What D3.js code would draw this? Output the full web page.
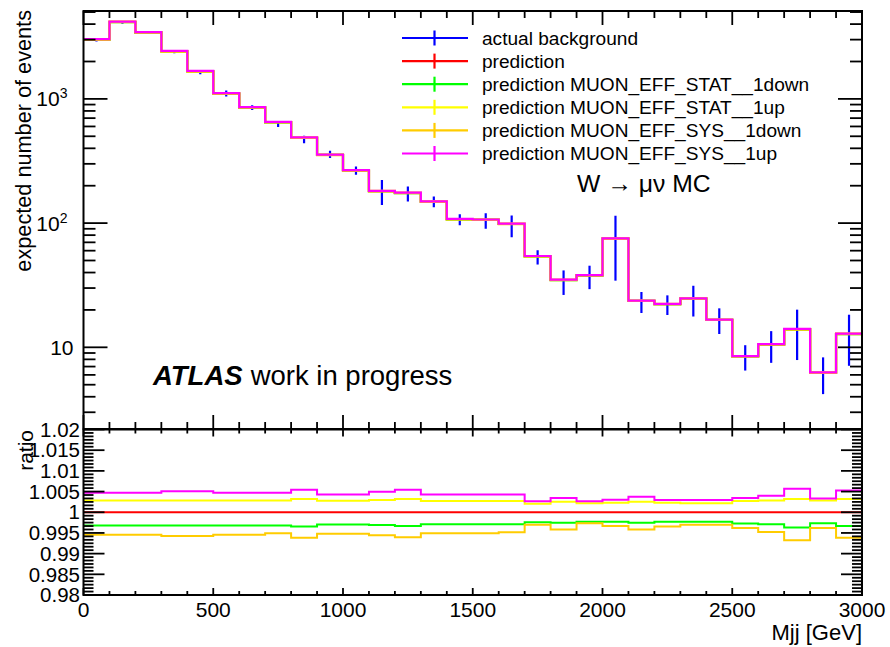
<!DOCTYPE html>
<html><head><meta charset="utf-8">
<script src="https://cdn.jsdelivr.net/npm/d3@7"></script>
<style>
body{margin:0;background:#fff}
svg text{font-family:"Liberation Sans",Arial,Helvetica,sans-serif;fill:#000}
</style>
</head><body>
<svg id="c" width="890" height="647"></svg>
<script>
// ---------------- data ----------------
const binEdges = [0,100,200,300,400,500,600,700,800,900,1000,1100,1200,1300,1400,1500,1600,1700,1800,1900,2000,2100,2200,2300,2400,2500,2600,2700,2800,2900,3000];
const prediction = [3010,4170,3430,2420,1670,1106,854,650,488,355,266,181,175,149,107.5,106.5,98.6,54.2,34.9,38.0,75.0,23.7,22.3,24.7,16.65,8.48,10.56,14.0,6.26,12.83];
const actualBkg = [2944,4083,3420,2376,1627,1105,852,618,472,358,265,181,173,149,107,105,96,53.4,34,37.4,74.4,23.4,22.2,24.5,16.7,8.45,10.5,14.0,6.25,12.7];
const actualErr = [50,65,60,50,45,61,37,25,32,24,20,41,24,15,11,15,19,7,7.6,8,40,4.5,4,6.8,3.9,1.95,3.0,6.1,2.05,5.6];
const ratioStatDown = [0.99681,0.99681,0.99681,0.99681,0.99681,0.99681,0.99681,0.99681,0.99653,0.99705,0.99705,0.99689,0.99665,0.99713,0.99713,0.99713,0.99713,0.99761,0.99745,0.99769,0.99769,0.99745,0.99769,0.99769,0.99769,0.99729,0.99713,0.99633,0.99737,0.99665];
const ratioStatUp = [1.00287,1.00287,1.00287,1.00287,1.00287,1.00287,1.00287,1.00287,1.00319,1.00279,1.00279,1.00295,1.00319,1.00271,1.00271,1.00271,1.00271,1.00207,1.00255,1.00219,1.00231,1.00255,1.00231,1.00215,1.00215,1.00271,1.00287,1.00319,1.00287,1.00319];
const ratioSysDown = [0.99458,0.99458,0.99458,0.99426,0.99426,0.99458,0.99458,0.99490,0.99386,0.99482,0.99482,0.99442,0.99394,0.99490,0.99490,0.99490,0.99514,0.99697,0.99585,0.99737,0.99665,0.99585,0.99657,0.99697,0.99697,0.99617,0.99522,0.99322,0.99617,0.99386];
const ratioSysUp = [1.00470,1.00470,1.00470,1.00510,1.00510,1.00470,1.00470,1.00470,1.00542,1.00431,1.00431,1.00494,1.00542,1.00431,1.00431,1.00431,1.00431,1.00263,1.00343,1.00263,1.00303,1.00375,1.00295,1.00295,1.00295,1.00343,1.00399,1.00566,1.00335,1.00526];
const ratioNominal = prediction.map(() => 1);

const legendNames = ["actual background","prediction","prediction MUON_EFF_STAT__1down","prediction MUON_EFF_STAT__1up","prediction MUON_EFF_SYS__1down","prediction MUON_EFF_SYS__1up"];
const legendColors = ["#0000ff","#ff0000","#00ff00","#ffff00","#ffcc00","#ff00ff"];

const xMajorTicks = [0,500,1000,1500,2000,2500,3000];
const xTickLabels = ["0","500","1000","1500","2000","2500","3000"];
const yMainMajor = [10,100,1000];
const yMainLabelBase = ["10","10","10"];
const yMainLabelExp = ["","2","3"];
const ratioTicks = [0.98,0.985,0.99,0.995,1,1.005,1.01,1.015,1.02];
const ratioTickLabels = ["0.98","0.985","0.99","0.995","1","1.005","1.01","1.015","1.02"];

// ---------------- layout ----------------
const X0 = 83.5, X1 = 862, T = 11, MB = 429, RT = 429.5, RB = 595;
const svg = d3.select("#c");
const x = d3.scaleLinear().domain([0,3000]).range([X0,X1]);
const y = d3.scaleLog().domain([2.2,5100]).range([MB,T]);
const yr = d3.scaleLinear().domain([0.98,1.02]).range([RB,RT]);

svg.append("rect").attr("width",890).attr("height",647).attr("fill","#fff");
const defs = svg.append("defs");
defs.append("clipPath").attr("id","clipMain").append("rect").attr("x",X0).attr("y",T).attr("width",X1-X0).attr("height",MB-T);
defs.append("clipPath").attr("id","clipRatio").append("rect").attr("x",X0).attr("y",RT).attr("width",X1-X0).attr("height",RB-RT);

function stepPts(vals){
  const pts = vals.map((v,i)=>[binEdges[i],v]);
  pts.push([binEdges[binEdges.length-1], vals[vals.length-1]]);
  return pts;
}
const lineMain = d3.line().x(d=>x(d[0])).y(d=>y(d[1])).curve(d3.curveStepAfter);
const lineRatio = d3.line().x(d=>x(d[0])).y(d=>yr(d[1])).curve(d3.curveStepAfter);

// ---------------- main panel ----------------
const gMain = svg.append("g").attr("clip-path","url(#clipMain)");
const centers = binEdges.slice(0,-1).map((e,i)=>(e+binEdges[i+1])/2);
gMain.selectAll("line.err").data(actualBkg).enter().append("line")
  .attr("x1",(d,i)=>x(centers[i])).attr("x2",(d,i)=>x(centers[i]))
  .attr("y1",(d,i)=>y(d+actualErr[i])).attr("y2",(d,i)=>y(Math.max(d-actualErr[i],0.01)))
  .attr("stroke","#0000ff").attr("stroke-width",2.2);

const mainSeries = [
  {vals: prediction, c: legendColors[1]},
  {vals: prediction.map((v,i)=>v*ratioStatDown[i]), c: legendColors[2]},
  {vals: prediction.map((v,i)=>v*ratioStatUp[i]), c: legendColors[3]},
  {vals: prediction.map((v,i)=>v*ratioSysDown[i]), c: legendColors[4]},
  {vals: prediction.map((v,i)=>v*ratioSysUp[i]), c: legendColors[5]}
];
mainSeries.forEach(s=>{
  gMain.append("path").attr("d",lineMain(stepPts(s.vals))).attr("fill","none")
    .attr("stroke",s.c).attr("stroke-width",2.2);
});

// ---------------- ratio panel ----------------
const gRatio = svg.append("g").attr("clip-path","url(#clipRatio)");
[[ratioNominal,1],[ratioStatDown,2],[ratioStatUp,3],[ratioSysDown,4],[ratioSysUp,5]].forEach(([vals,ci])=>{
  gRatio.append("path").attr("d",lineRatio(stepPts(vals))).attr("fill","none")
    .attr("stroke",legendColors[ci]).attr("stroke-width",2);
});

// ---------------- axes ----------------
const ax = svg.append("g").attr("stroke","#000").attr("stroke-width",1.8);
function tick(x1,y1,x2,y2){ ax.append("line").attr("x1",x1).attr("y1",y1).attr("x2",x2).attr("y2",y2); }

svg.append("rect").attr("x",X0).attr("y",T).attr("width",X1-X0).attr("height",MB-T).attr("fill","none").attr("stroke","#000").attr("stroke-width",2);
svg.append("rect").attr("x",X0).attr("y",RT).attr("width",X1-X0).attr("height",RB-RT).attr("fill","none").attr("stroke","#000").attr("stroke-width",2);

binEdges.forEach(v=>{
  const major = xMajorTicks.includes(v);
  const px = x(v);
  const lm = major?14:7, lr = major?7:4;
  tick(px,T,px,T+lm);
  tick(px,MB,px,MB-lm);
  tick(px,RT,px,RT+lr);
  tick(px,RB,px,RB-lr);
});
y.ticks().forEach(v=>{
  if (v < 2.2 || v > 5100) return;
  const major = yMainMajor.includes(v);
  const L = major?24:12;
  const py = y(v);
  tick(X0,py,X0+L,py);
  tick(X1,py,X1-L,py);
});
const ratioMinorStep = 0.005/6;
d3.range(0,49).forEach(k=>{
  const v = 0.98 + k*ratioMinorStep;
  const major = (k%6===0);
  const L = major?21:10;
  const py = yr(v);
  tick(X0,py,X0+L,py);
  tick(X1,py,X1-L,py);
});

// tick labels
const FS = 21;
svg.append("g").selectAll("text").data(xMajorTicks).enter().append("text")
  .attr("x",d=>x(d)).attr("y",617).attr("text-anchor","middle").attr("font-size",FS)
  .text((d,i)=>xTickLabels[i]);

yMainMajor.forEach((v,i)=>{
  const t = svg.append("text").attr("y",y(v)+7.5).attr("font-size",FS);
  if (yMainLabelExp[i]===""){
    t.attr("x",73.5).attr("text-anchor","end").text(yMainLabelBase[i]);
  } else {
    t.attr("x",67.5).attr("text-anchor","end");
    t.append("tspan").text(yMainLabelBase[i]);
    t.append("tspan").attr("font-size",14).attr("dy",-8).text(yMainLabelExp[i]);
  }
});

svg.append("g").selectAll("text").data(ratioTicks).enter().append("text")
  .attr("x",80).attr("y",d=>yr(d)+7.2).attr("text-anchor","end").attr("font-size",20.5)
  .text((d,i)=>ratioTickLabels[i]);

// axis titles
svg.append("text").attr("transform","translate(31,10) rotate(-90)").attr("text-anchor","end")
  .attr("font-size",21.7).text("expected number of events");
svg.append("text").attr("transform","translate(33,430) rotate(-90)").attr("text-anchor","end")
  .attr("font-size",21).text("ratio");
svg.append("text").attr("x",862).attr("y",640).attr("text-anchor","end").attr("font-size",22).text("Mjj [GeV]");

// ---------------- legend ----------------
const lg = svg.append("g");
legendNames.forEach((n,i)=>{
  const cy = 38 + i*23.1;
  lg.append("line").attr("x1",402).attr("x2",468).attr("y1",cy).attr("y2",cy).attr("stroke",legendColors[i]).attr("stroke-width",2.2);
  lg.append("line").attr("x1",434.5).attr("x2",434.5).attr("y1",cy-7.5).attr("y2",cy+7.5).attr("stroke",legendColors[i]).attr("stroke-width",2.2);
  lg.append("text").attr("x",482).attr("y",cy+6.5).attr("font-size",19.1).text(n);
});

// ---------------- annotations ----------------
svg.append("text").attr("x",577).attr("y",192).attr("font-size",24.7).text("W \u2192 \u03BC\u03BD MC");
const at = svg.append("text").attr("x",153).attr("y",385).attr("font-size",27.5);
at.append("tspan").attr("font-weight","bold").attr("font-style","italic").text("ATLAS");
at.append("tspan").attr("dx",8).text("work in progress");
</script>
</body></html>
